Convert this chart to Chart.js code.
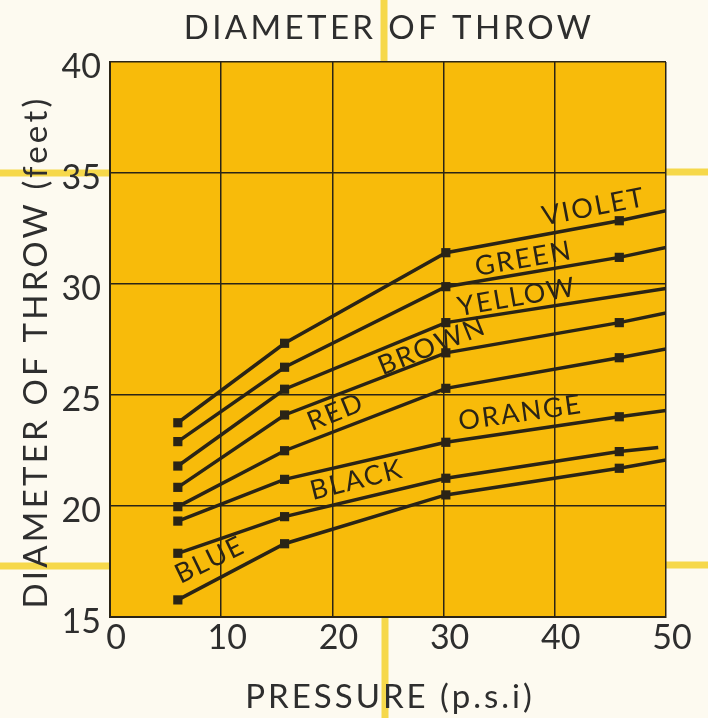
<!DOCTYPE html>
<html>
<head>
<meta charset="utf-8">
<title>Diameter of Throw</title>
<script src="https://cdn.jsdelivr.net/npm/chart.js@4.4.1/dist/chart.umd.min.js"></script>
<style>
  html, body { margin: 0; padding: 0; background: #fdfaf0; }
  canvas { display: block; }
</style>
</head>
<body>
<canvas id="throwChart" width="708" height="718"></canvas>
<script>
/* ── Data ── */
const pressure   = [6.1, 15.7, 30.2, 45.8, 50];   // p.s.i, last = end of line
const blackEnd   = 49.3;

const violet = [23.75, 27.33, 31.41, 32.85, 33.3];
const green  = [22.9,  26.25, 29.88, 31.2,  31.65];
const yellow = [21.8,  25.26, 28.26, null,  29.8];
const brown  = [20.84, 24.1,  26.9,  28.26, 28.7];
const red    = [19.97, 22.49, 25.3,  26.68, 27.07];
const orange = [19.32, 21.2,  22.87, 24.02, 24.3];
const black  = [17.87, 19.52, 21.25, 22.45, 22.63];
const blue   = [15.77, 18.3,  20.5,  21.7,  22.07];

const seriesNames = ['VIOLET', 'GREEN', 'YELLOW', 'BROWN', 'RED', 'ORANGE', 'BLACK', 'BLUE'];
const seriesData  = [violet, green, yellow, brown, red, orange, black, blue];

const xTicks = [0, 10, 20, 30, 40, 50];
const yTicks = [15, 20, 25, 30, 35, 40];

/* ── Label placement (data units) ── */
const labelSpots = {
  VIOLET: { x: 43.5, y: 33.47, rot: -11 },
  GREEN:  { x: 37.2, y: 31.13, rot: -10 },
  YELLOW: { x: 36.6, y: 29.41, rot: -10 },
  BROWN:  { x: 28.96, y: 27.2, rot: -22 },
  RED:    { x: 20.3, y: 24.23, rot: -22 },
  ORANGE: { x: 36.9, y: 24.19, rot: -8 },
  BLACK:  { x: 22.2, y: 21.17, rot: -14 },
  BLUE:   { x: 9.0,  y: 17.57, rot: -26 }
};

const INK   = '#2a2416';
const TEXT  = '#2e2e2e';
const PLOT  = '#f8bb0a';
const PAPER = '#fdfaf0';
const FOLD  = '#f6d84a';
const FONT  = 'Lato, "DejaVu Sans", sans-serif';

const datasets = seriesNames.map((name, i) => ({
  label: name,
  data: seriesData[i].map((v, j) => ({
    x: (name === 'BLACK' && j === pressure.length - 1) ? blackEnd : pressure[j],
    y: v
  })),
  borderColor: INK,
  backgroundColor: INK,
  borderWidth: 3.5,
  pointStyle: 'rect',
  pointRadius: ctx => ctx.dataIndex === pressure.length - 1 ? 0 : 6.5,
  pointBorderWidth: 0,
  spanGaps: true,
  tension: 0
}));

/* ── Paper, folds and plot fill ── */
const backdrop = {
  id: 'backdrop',
  beforeDraw(chart) {
    const { ctx, chartArea: a, width, height } = chart;
    ctx.save();
    ctx.fillStyle = PAPER;
    ctx.fillRect(0, 0, width, height);

    ctx.strokeStyle = FOLD;
    ctx.lineWidth = 7;
    ctx.beginPath();
    ctx.moveTo(0, 173);  ctx.lineTo(a.left, 173);
    ctx.moveTo(a.right, 172); ctx.lineTo(width, 172);
    ctx.moveTo(0, 566);  ctx.lineTo(a.left, 566);
    ctx.moveTo(a.right, 565); ctx.lineTo(width, 565);
    ctx.moveTo(384, 0);  ctx.lineTo(384, a.top);
    ctx.moveTo(385, a.bottom); ctx.lineTo(385, height);
    ctx.stroke();

    ctx.fillStyle = PLOT;
    ctx.fillRect(a.left, a.top, a.right - a.left, a.bottom - a.top);
    ctx.restore();
  }
};

/* ── Title, axis titles, series labels ── */
function spacedText(ctx, text, x, y, size, spacing, rot) {
  ctx.save();
  ctx.translate(x, y);
  if (rot) ctx.rotate(rot * Math.PI / 180);
  ctx.font = `${size}px ${FONT}`;
  ctx.letterSpacing = spacing + 'px';
  ctx.textAlign = 'center';
  ctx.textBaseline = 'middle';
  ctx.fillText(text, 0, 0);
  ctx.restore();
}

const captions = {
  id: 'captions',
  afterDraw(chart) {
    const { ctx, scales: { x, y } } = chart;
    ctx.fillStyle = TEXT;
    spacedText(ctx, 'DIAMETER OF THROW', 389, 28, 33, 3.4, 0);
    spacedText(ctx, 'PRESSURE (p.s.i)', 390, 697, 33, 3, 0);
    spacedText(ctx, 'DIAMETER OF THROW (feet)', 36, 352, 33, 3.2, -90);

    ctx.fillStyle = INK;
    seriesNames.forEach(name => {
      const s = labelSpots[name];
      spacedText(ctx, name, x.getPixelForValue(s.x), y.getPixelForValue(s.y), 27, 2, s.rot);
    });
  }
};

Chart.defaults.font.family = FONT;

new Chart(document.getElementById('throwChart'), {
  type: 'line',
  data: { datasets },
  plugins: [backdrop, captions],
  options: {
    responsive: false,
    animation: false,
    events: [],
    layout: { padding: { top: 62, right: 42, left: 0, bottom: 0 } },
    plugins: {
      legend: { display: false },
      tooltip: { enabled: false },
      title: { display: false }
    },
    scales: {
      x: {
        type: 'linear',
        min: 0, max: 50,
        afterFit: s => { s.height = 101; },
        afterBuildTicks: s => { s.ticks = xTicks.map(v => ({ value: v })); },
        grid: { color: INK, lineWidth: 1.5, drawTicks: false },
        border: { color: INK, width: 2 },
        ticks: {
          padding: 1,
          labelOffset: 6,
          color: TEXT,
          font: { size: 34 },
          maxRotation: 0
        }
      },
      y: {
        type: 'linear',
        min: 15, max: 40,
        afterFit: s => { s.width = 110; },
        afterBuildTicks: s => { s.ticks = yTicks.map(v => ({ value: v })); },
        grid: { color: INK, lineWidth: 1.5, drawTicks: false },
        border: { color: INK, width: 2 },
        ticks: {
          padding: 9,
          labelOffset: 5,
          color: TEXT,
          font: { size: 34 }
        }
      }
    }
  }
});
</script>
</body>
</html>
